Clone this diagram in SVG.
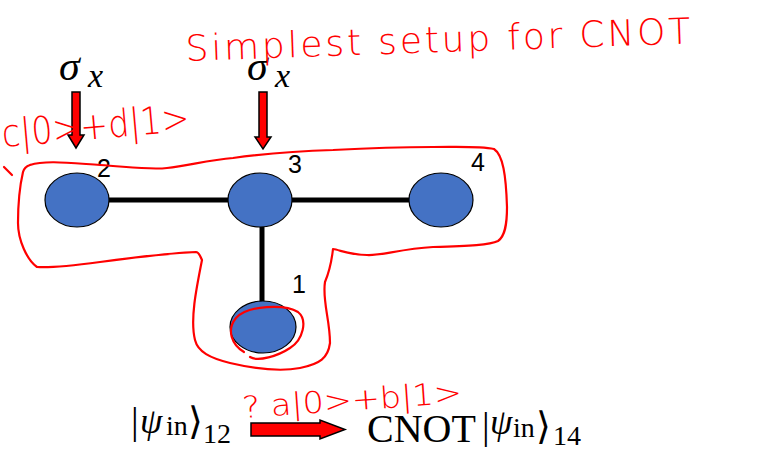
<svg xmlns="http://www.w3.org/2000/svg" width="777" height="451" viewBox="0 0 777 451">
<style>
.node{fill:#4472C4;stroke:#000;stroke-width:1.2}
.edge{stroke:#000;stroke-width:5;fill:none}
.num{font-family:"Liberation Sans",Arial,sans-serif;font-size:25px;fill:#000}
.math{font-family:"Liberation Serif","Times New Roman",serif;fill:#000}
.blk{fill:#f00;stroke:#000;stroke-width:1.5;stroke-linejoin:miter}
.ink{fill:none;stroke:#f00;stroke-width:2.2;stroke-linecap:round;stroke-linejoin:round}
.hand{font-family:"DejaVu Sans",sans-serif;font-weight:200;fill:#f00}
</style>
<rect width="777" height="451" fill="#fff"/>
<g id="connectors">
<line class="edge" x1="109" y1="200" x2="228" y2="200"/>
<line class="edge" x1="292" y1="200" x2="409" y2="200"/>
<line class="edge" x1="262" y1="227" x2="262" y2="302" stroke-width="4"/>
</g>
<g id="node2"><ellipse class="node" cx="77" cy="200" rx="32" ry="27"/><text class="num" x="97" y="177">2</text></g>
<g id="node3"><ellipse class="node" cx="260" cy="200" rx="32" ry="27"/><text class="num" x="288" y="173">3</text></g>
<g id="node4"><ellipse class="node" cx="441" cy="200" rx="32" ry="27"/><text class="num" x="471" y="171">4</text></g>
<g id="node1"><ellipse class="node" cx="263" cy="327" rx="33" ry="26"/><text class="num" x="292" y="293">1</text></g>
<g id="sigma1">
<text class="math" font-style="italic" font-size="42" x="59" y="80">σ</text>
<text class="math" font-style="italic" font-size="34" x="88" y="87">x</text>
<path class="blk" d="M72,92 H80 V135 H84 L76,148 L68,135 H72 Z"/>
</g>
<g id="sigma2">
<text class="math" font-style="italic" font-size="42" x="247" y="80">σ</text>
<text class="math" font-style="italic" font-size="34" x="275" y="87">x</text>
<path class="blk" d="M259,92 H267 V137 H271 L263,149 L255,137 H259 Z"/>
</g>
<g id="formula">
<text class="math" font-size="38"><tspan x="131" y="434">|</tspan><tspan x="140" y="433" font-size="36" font-style="italic">ψ</tspan><tspan x="166" y="435" font-size="28">in</tspan><tspan x="188" y="434">⟩</tspan><tspan x="203" y="443" font-size="28">12</tspan></text>
<path class="blk" d="M251,423 H320 V420 L345,429.5 L320,439 V436 H251 Z"/>
<text class="math" font-size="40"><tspan x="367" y="442">CNOT</tspan><tspan x="482" y="439" font-size="38">|</tspan><tspan x="490" y="434" font-size="36" font-style="italic">ψ</tspan><tspan x="513" y="437" font-size="28">in</tspan><tspan x="536" y="439" font-size="38">⟩</tspan><tspan x="553" y="445" font-size="28">14</tspan></text>
</g>
<g id="annotations">
<text class="hand" font-size="36" x="186" y="61" textLength="505" lengthAdjust="spacing" transform="rotate(-2 186 61)">Simplest setup for CNOT</text>
<text class="hand" font-size="38" x="3" y="147" textLength="188" lengthAdjust="spacingAndGlyphs" transform="rotate(-5 3 147)">c|0&gt;+d|1&gt;</text>
<text class="hand" font-size="30" x="243" y="418" textLength="220" lengthAdjust="spacingAndGlyphs" transform="rotate(-4 243 418)">? a|0&gt;+b|1&gt;</text>
<path class="ink" d="M30,165 C45,160 70,163 100,165 C130,167 150,170 167,168 C190,165 210,160 233,158 C270,153 300,151 333,150 C370,148 400,147 433,147 C460,147 480,146 494,149 C503,155 506,175 507,207 C507,225 505,236 498,241 C490,245 470,246 433,247 C400,249 380,256 367,255 C350,255 340,250 333,249 C332,258 330,270 325,282 C322,300 330,320 330,343 C328,358 320,364 300,368 C285,371 260,370 230,363 C210,358 198,352 195,340 C190,320 196,290 202,260 C200,255 198,252 196,252 C170,253 130,258 100,262 C70,266 50,268 37,267 C27,260 18,240 18,223 C18,200 20,185 23,172 C24,168 27,166 30,165"/>
<path class="ink" d="M4,167 L12,175"/>
<path class="ink" d="M244,352 C232,345 226,330 236,318 C248,305 285,304 298,312 C308,320 303,340 290,348 C278,356 258,362 250,357"/>
</g>
</svg>
